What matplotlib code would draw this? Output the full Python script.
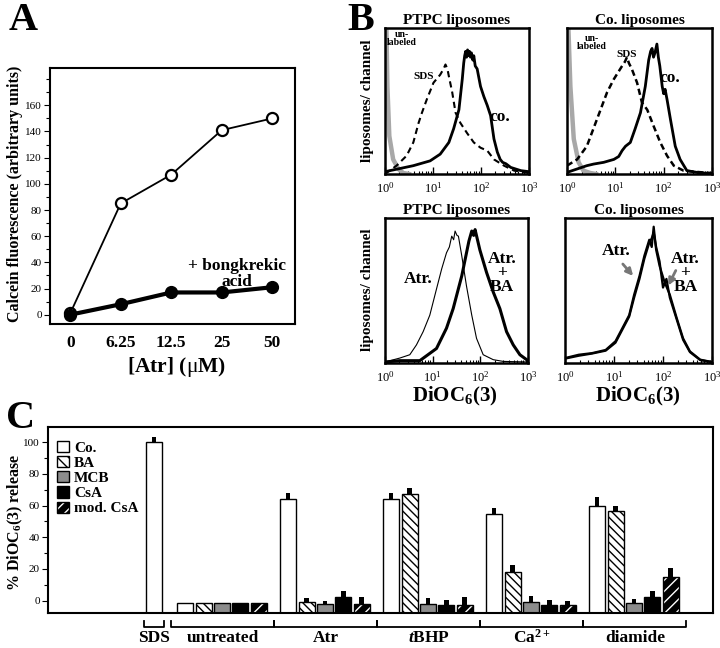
import numpy as np
import matplotlib
matplotlib.use('Agg')
from matplotlib import pyplot as plt
from matplotlib.patches import Patch
from matplotlib.ticker import LogLocator, MultipleLocator, NullFormatter

plt.rcParams['font.family'] = ['Liberation Serif', 'DejaVu Serif']
plt.rcParams['mathtext.fontset'] = 'custom'
plt.rcParams['mathtext.rm'] = 'Liberation Serif'
plt.rcParams['mathtext.bf'] = 'Liberation Serif:bold'
plt.rcParams['mathtext.it'] = 'Liberation Serif:italic:bold'

# ---- panel A data ----
atr_labels = ['0', '6.25', '12.5', '25', '50']
calcein_co = [1, 85, 107, 141, 150]
calcein_ba = [0, 8, 17, 17, 21]

# ---- panel B data (log10 DiOC6(3) channel, relative count) ----
ptpc_co_x = [0, 0.59, 0.94, 1.15, 1.33, 1.43, 1.54, 1.61, 1.64, 1.66, 1.68, 1.70, 1.72, 1.74, 1.76,
             1.78, 1.80, 1.83, 1.85, 1.88, 1.92, 1.99, 2.06, 2.13, 2.20, 2.27, 2.34, 2.40, 2.45, 2.52,
             2.62, 2.83, 3.0]
ptpc_co_y = [0.016, 0.057, 0.09, 0.136, 0.216, 0.31, 0.44, 0.65, 0.76, 0.81, 0.84, 0.80, 0.85, 0.81,
             0.84, 0.80, 0.83, 0.78, 0.81, 0.74, 0.72, 0.60, 0.53, 0.47, 0.40, 0.24, 0.15, 0.10, 0.08,
             0.07, 0.045, 0.023, 0.016]
ptpc_sds_x = [0, 0.24, 0.45, 0.59, 0.70, 0.77, 0.87, 1.01, 1.15, 1.22, 1.26, 1.30, 1.33, 1.40, 1.47,
              1.57, 1.71, 1.85, 1.99, 2.13, 2.27, 2.48, 2.69, 3.0]
ptpc_sds_y = [0.0, 0.057, 0.125, 0.216, 0.35, 0.42, 0.51, 0.625, 0.68, 0.72, 0.75, 0.72, 0.67, 0.56,
              0.42, 0.35, 0.28, 0.216, 0.18, 0.16, 0.10, 0.057, 0.023, 0.007]
ptpc_unl_x = [0.02, 0.03, 0.05, 0.09, 0.17, 0.28, 0.38, 0.5]
ptpc_unl_y = [1.2, 0.99, 0.6, 0.26, 0.10, 0.034, 0.007, 0.0]

colip_co_x = [0, 0.41, 0.55, 0.76, 0.97, 1.07, 1.14, 1.21, 1.31, 1.41, 1.52, 1.62, 1.69, 1.73, 1.76,
              1.79, 1.82, 1.86, 1.89, 1.92, 1.97, 2.00, 2.03, 2.07, 2.14, 2.24, 2.34, 2.48, 2.76, 3.0]
colip_co_y = [0.011, 0.057, 0.068, 0.08, 0.10, 0.12, 0.16, 0.19, 0.216, 0.31, 0.42, 0.60, 0.78, 0.84,
              0.86, 0.80, 0.83, 0.89, 0.80, 0.74, 0.60, 0.55, 0.58, 0.51, 0.375, 0.19, 0.10, 0.023,
              0.007, 0.005]
colip_sds_x = [0, 0.21, 0.41, 0.62, 0.83, 0.97, 1.14, 1.20, 1.24, 1.28, 1.34, 1.45, 1.55, 1.66, 1.79,
               1.93, 2.07, 2.21, 2.41, 3.0]
colip_sds_y = [0.057, 0.10, 0.19, 0.375, 0.56, 0.65, 0.74, 0.77, 0.80, 0.76, 0.72, 0.625, 0.49, 0.44,
               0.33, 0.216, 0.125, 0.057, 0.023, 0.005]
colip_unl_x = [0.02, 0.03, 0.07, 0.14, 0.24, 0.34, 0.48, 0.6]
colip_unl_y = [1.2, 0.99, 0.6, 0.24, 0.08, 0.023, 0.007, 0.0]

ptpc_atr_x = [0, 0.31, 0.52, 0.66, 0.80, 0.94, 1.08, 1.19, 1.29, 1.35, 1.40, 1.44, 1.47, 1.51, 1.54,
              1.61, 1.71, 1.82, 1.92, 2.06, 2.27, 2.48, 3.0]
ptpc_atr_y = [0.007, 0.034, 0.057, 0.125, 0.216, 0.33, 0.51, 0.65, 0.76, 0.80, 0.875, 0.85, 0.91,
              0.88, 0.875, 0.74, 0.53, 0.33, 0.17, 0.057, 0.023, 0.011, 0.007]
ptpc_atrba_x = [0, 0.31, 0.73, 1.08, 1.29, 1.43, 1.61, 1.71, 1.76, 1.82, 1.86, 1.89, 1.94, 1.99, 2.13,
                2.27, 2.41, 2.55, 2.69, 2.83, 3.0]
ptpc_atrba_y = [0.007, 0.016, 0.016, 0.10, 0.24, 0.375, 0.60, 0.76, 0.84, 0.91, 0.88, 0.92, 0.85, 0.78,
                0.625, 0.49, 0.375, 0.216, 0.125, 0.057, 0.016]

colip_atr_x = [0, 0.28, 0.55, 0.83, 1.03, 1.17, 1.31, 1.41, 1.52, 1.62, 1.72, 1.77, 1.81, 1.86, 1.93,
               2.03, 2.14, 2.28, 2.41, 2.55, 2.76, 3.0]
colip_atr_y = [0.034, 0.057, 0.068, 0.09, 0.15, 0.24, 0.33, 0.47, 0.60, 0.74, 0.85, 0.80, 0.94, 0.78,
               0.67, 0.56, 0.47, 0.31, 0.17, 0.08, 0.023, 0.007]
colip_atrba_x = [0, 0.28, 0.55, 0.83, 1.03, 1.17, 1.31, 1.41, 1.52, 1.62, 1.72, 1.77, 1.81, 1.86, 1.93,
                 2.00, 2.07, 2.14, 2.28, 2.41, 2.55, 2.76, 3.0]
colip_atrba_y = [0.03, 0.05, 0.065, 0.085, 0.14, 0.23, 0.32, 0.45, 0.58, 0.72, 0.83, 0.86, 0.90, 0.80,
                 0.70, 0.52, 0.58, 0.45, 0.30, 0.16, 0.075, 0.02, 0.006]

# ---- panel C data ----
conditions = ['untreated', 'Atr', r'$\mathit{t}$BHP', r'Ca$^{\mathbf{2+}}$', 'diamide']
treatments = ['Co.', 'BA', 'MCB', 'CsA', 'mod. CsA']
sds_val, sds_err = 100, 3
rel_co = [-1.3, 64, 64, 55, 60]
rel_co_err = [0, 4, 4, 3.5, 5.5]
rel_ba = [-1.3, -1, 67.5, 18, 56.4]
rel_ba_err = [0, 2.5, 3.5, 4.5, 3.5]
rel_mcb = [-1.3, -2, -2, -1, -1.5]
rel_mcb_err = [0, 2, 3.5, 4, 2.7]
rel_csa = [-1.3, 2.3, -3, -2.5, 2]
rel_csa_err = [0, 3.7, 3.6, 3.1, 4]
rel_mod = [-1.3, -2, -3, -3, 15]
rel_mod_err = [0, 4, 5, 3, 5.5]

W, H = 720, 648
fig = plt.figure(figsize=(7.2, 6.48), dpi=100)


def rect(x0, y0, x1, y1):
    return [x0 / W, 1 - y1 / H, (x1 - x0) / W, (y1 - y0) / H]


def ftext(x, y, s, **kw):
    fig.text(x / W, 1 - y / H, s, **kw)


# ================= A =================
axA = fig.add_axes(rect(50, 68, 295, 324))
xa = np.arange(len(atr_labels))
axA.plot(xa, calcein_co, '-o', color='black', lw=1.3, ms=8, mfc='white', mew=1.6, zorder=3)
axA.plot(xa, calcein_ba, '-o', color='black', lw=3, ms=8.5, zorder=4)
axA.set_xlim(-0.4, 4.45)
axA.set_ylim(-7.1, 188.5)
axA.set_xticks(xa)
axA.set_xticklabels(atr_labels, fontsize=12.5, fontweight='bold')
axA.tick_params(axis='x', length=0, pad=8)
axA.set_yticks(np.arange(0, 161, 20))
axA.yaxis.set_minor_locator(MultipleLocator(10))
axA.tick_params(axis='y', which='major', labelsize=8, length=4, width=0.8, pad=2)
axA.tick_params(axis='y', which='minor', length=3, width=0.8)
for s in axA.spines.values():
    s.set_linewidth(1.5)
axA.text(3.3, 31, '+ bongkrekic\nacid', ha='center', va='center', fontsize=12.5,
         fontweight='bold', linespacing=0.95)
ftext(15, 194, 'Calcein fluorescence (arbitrary units)', rotation=90, ha='center', va='center',
      fontsize=11.5, fontweight='bold')
ftext(177, 367, r'[Atr] ($\mathrm{\mu}$M)', ha='center', va='center', fontsize=15.5,
      fontweight='bold')
ftext(23, 21, 'A', ha='center', va='center', fontsize=29, fontweight='bold')

# ================= B =================
b_rects = [rect(385, 28, 529, 174), rect(567, 28, 712, 174),
           rect(385, 218, 528, 363), rect(565, 218, 712, 363)]
b_titles = ['PTPC liposomes', 'Co. liposomes', 'PTPC liposomes', 'Co. liposomes']
axB = []
for r, t in zip(b_rects, b_titles):
    ax = fig.add_axes(r)
    ax.set_xscale('log')
    ax.set_xlim(1, 1000)
    ax.set_ylim(0, 1)
    ax.set_yticks([])
    ax.xaxis.set_major_locator(LogLocator(base=10, numticks=5))
    ax.xaxis.set_minor_locator(LogLocator(base=10, subs=np.arange(2, 10), numticks=20))
    ax.xaxis.set_minor_formatter(NullFormatter())
    ax.tick_params(axis='x', which='major', direction='in', length=5, width=1, labelsize=9, pad=5)
    ax.tick_params(axis='x', which='minor', direction='in', length=2.5, width=0.8)
    for s in ax.spines.values():
        s.set_linewidth(1.8)
    ax.set_title(t, fontsize=11, fontweight='bold', pad=3)
    axB.append(ax)


def lx(v):
    return 10 ** np.asarray(v)


a = axB[0]
a.plot(lx(ptpc_unl_x), ptpc_unl_y, color='#a8a8a8', lw=3.2)
a.plot(lx(ptpc_sds_x), ptpc_sds_y, color='black', lw=1.5, ls=(0, (3, 2)))
a.plot(lx(ptpc_co_x), ptpc_co_y, color='black', lw=2)
a.text(0.12, 0.93, 'un-\nlabeled', transform=a.transAxes, ha='center', va='center', fontsize=7,
       fontweight='bold', linespacing=0.9)
a.text(0.27, 0.67, 'SDS', transform=a.transAxes, ha='center', va='center', fontsize=8,
       fontweight='bold')
a.text(0.80, 0.39, 'co.', transform=a.transAxes, ha='center', va='center', fontsize=12.5,
       fontweight='bold')

a = axB[1]
a.plot(lx(colip_unl_x), colip_unl_y, color='#a8a8a8', lw=3.2)
a.plot(lx(colip_sds_x), colip_sds_y, color='black', lw=1.8, ls=(0, (2.5, 1.5)))
a.plot(lx(colip_co_x), colip_co_y, color='black', lw=2)
a.text(0.17, 0.90, 'un-\nlabeled', transform=a.transAxes, ha='center', va='center', fontsize=7,
       fontweight='bold', linespacing=0.9)
a.text(0.41, 0.82, 'SDS', transform=a.transAxes, ha='center', va='center', fontsize=8,
       fontweight='bold')
a.text(0.71, 0.66, 'co.', transform=a.transAxes, ha='center', va='center', fontsize=12.5,
       fontweight='bold')

a = axB[2]
a.plot(lx(ptpc_atr_x), ptpc_atr_y, color='black', lw=0.8)
a.plot(lx(ptpc_atrba_x), ptpc_atrba_y, color='black', lw=2.2)
a.text(0.23, 0.58, 'Atr.', transform=a.transAxes, ha='center', va='center', fontsize=12.5,
       fontweight='bold')
a.text(0.82, 0.62, 'Atr.\n+\nBA', transform=a.transAxes, ha='center', va='center', fontsize=12.5,
       fontweight='bold', linespacing=0.85)

a = axB[3]
a.plot(lx(colip_atr_x), colip_atr_y, color='black', lw=1.6)
a.plot(lx(colip_atrba_x), colip_atrba_y, color='black', lw=1.6)
a.text(0.35, 0.77, 'Atr.', transform=a.transAxes, ha='center', va='center', fontsize=12.5,
       fontweight='bold')
a.text(0.82, 0.62, 'Atr.\n+\nBA', transform=a.transAxes, ha='center', va='center', fontsize=12.5,
       fontweight='bold', linespacing=0.85)
a.annotate('', xy=(0.476, 0.586), xytext=(0.381, 0.697), xycoords='axes fraction',
           arrowprops=dict(arrowstyle='-|>', color='#777777', lw=2, mutation_scale=10))
a.annotate('', xy=(0.694, 0.517), xytext=(0.762, 0.655), xycoords='axes fraction',
           arrowprops=dict(arrowstyle='-|>', color='#777777', lw=2, mutation_scale=10))

for y in (101, 290):
    ftext(368, y, 'liposomes/ channel', rotation=90, ha='center', va='center', fontsize=11,
          fontweight='bold')
for x in (455, 638):
    ftext(x, 396, r'DiOC$_{\mathbf{6}}$(3)', ha='center', va='center', fontsize=15,
          fontweight='bold')
ftext(361, 21, 'B', ha='center', va='center', fontsize=29, fontweight='bold')

# ================= C =================
axC = fig.add_axes(rect(48, 427, 713, 613))
ymin = -7.8
axC.set_ylim(ymin, 109.6)
axC.set_xlim(-5.76, 30.4)
slot_w = 0.87
grp_step = 5.6
grp_start = 1.7

series = [rel_co, rel_ba, rel_mcb, rel_csa, rel_mod]
series_err = [rel_co_err, rel_ba_err, rel_mcb_err, rel_csa_err, rel_mod_err]
styles = [dict(facecolor='white', hatch=None),
          dict(facecolor='white', hatch='\\\\\\\\'),
          dict(facecolor='#8c8c8c', hatch=None),
          dict(facecolor='black', hatch=None),
          dict(facecolor='black', hatch='///')]

# SDS bar
axC.bar(0, sds_val - ymin, bottom=ymin, width=slot_w, facecolor='white', edgecolor='black', lw=1)
axC.bar(0, sds_err, bottom=sds_val, width=0.25, color='black')

for i, (vals, errs, st) in enumerate(zip(series, series_err, styles)):
    xs = grp_start + np.arange(len(conditions)) * grp_step + i
    heights = np.array(vals) - ymin
    if i == 4:
        axC.bar(xs, heights, bottom=ymin, width=slot_w, facecolor='black', edgecolor='white',
                hatch='///', lw=0)
        axC.bar(xs, heights, bottom=ymin, width=slot_w, fill=False, edgecolor='black', lw=1)
    else:
        axC.bar(xs, heights, bottom=ymin, width=slot_w, facecolor=st['facecolor'],
                edgecolor='black', hatch=st['hatch'], lw=1)
    axC.bar(xs, errs, bottom=vals, width=0.25, color='black')

axC.set_xticks([])
axC.set_yticks(np.arange(0, 101, 20))
axC.yaxis.set_minor_locator(MultipleLocator(10))
axC.tick_params(axis='y', which='major', labelsize=8, length=4, width=0.8, pad=2)
axC.tick_params(axis='y', which='minor', length=3, width=0.8)
for s in axC.spines.values():
    s.set_linewidth(1.5)

handles = [Patch(facecolor='white', edgecolor='black'),
           Patch(facecolor='white', edgecolor='black', hatch='\\\\\\'),
           Patch(facecolor='#8c8c8c', edgecolor='black'),
           Patch(facecolor='black', edgecolor='black'),
           (Patch(facecolor='black', edgecolor='white', hatch='///', lw=0),
            Patch(fill=False, edgecolor='black'))]
axC.legend(handles, treatments, loc='upper left', bbox_to_anchor=(0.014, 0.925), frameon=False,
           prop=dict(size=11, weight='bold'), handlelength=0.75, handleheight=0.75,
           handletextpad=0.35, labelspacing=0.08, borderaxespad=0, borderpad=0)

# brackets below the axis
btrans = axC.get_xaxis_transform()
y_line, y_tick, y_lab = -0.075, -0.043, -0.135
brackets = [(-0.55, 0.55, 'SDS')]
for g, name in enumerate(conditions):
    s0 = grp_start + g * grp_step
    brackets.append((s0 - 0.75, s0 + 4.85, name))
for x0, x1, name in brackets:
    axC.plot([x0, x0, x1, x1], [y_tick, y_line, y_line, y_tick], color='black', lw=1.3,
             transform=btrans, clip_on=False)
    axC.text((x0 + x1) / 2, y_lab, name, transform=btrans, ha='center', va='center',
             fontsize=12.5, fontweight='bold')

ftext(15, 522, r'% DiOC$_{\mathbf{6}}$(3) release', rotation=90, ha='center', va='center',
      fontsize=11.5, fontweight='bold')
ftext(21, 418, 'C', ha='center', va='center', fontsize=29, fontweight='bold')

plt.savefig('out.png', dpi=100)
